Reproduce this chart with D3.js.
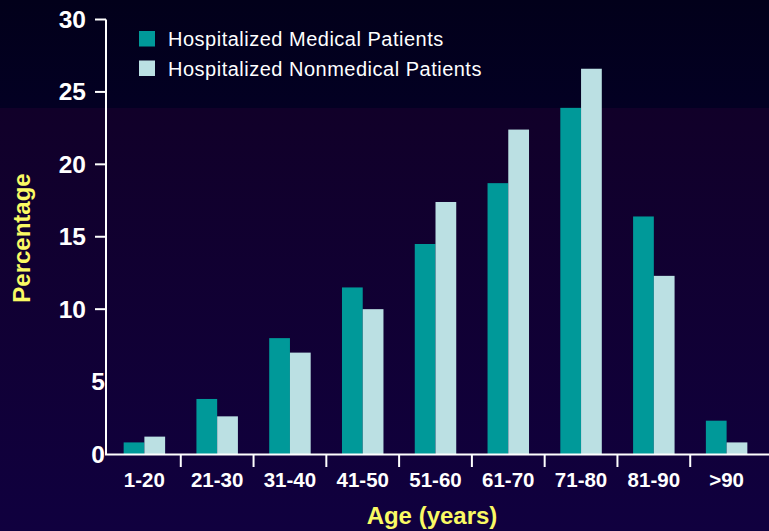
<!DOCTYPE html>
<html>
<head>
<meta charset="utf-8">
<script src="https://cdn.jsdelivr.net/npm/d3@7/dist/d3.min.js"></script>
<style>
  html, body { margin: 0; padding: 0; background: #0e0038; }
  svg { display: block; font-family: "Liberation Sans", Arial, sans-serif; }
</style>
</head>
<body>
<svg id="chart" width="769" height="531"></svg>
<script>
// Age groups and the share of patients (%) in each group
const ageGroups = ["1-20", "21-30", "31-40", "41-50", "51-60", "61-70", "71-80", "81-90", ">90"];
const medicalPatients = [0.8, 3.8, 8.0, 11.5, 14.5, 18.7, 23.9, 16.4, 2.3];
const nonmedicalPatients = [1.2, 2.6, 7.0, 10.0, 17.4, 22.4, 26.6, 12.3, 0.8];
const seriesNames = ["Hospitalized Medical Patients", "Hospitalized Nonmedical Patients"];
const yTicks = [0, 5, 10, 15, 20, 25, 30];

const colors = ["#009999", "#bbe0e3"];
const yellow = "#fafa64";

const svg = d3.select("#chart");
const W = 769, H = 531;

// Background: dark navy band on top, purple gradient below
const defs = svg.append("defs");
const gTop = defs.append("linearGradient").attr("id", "bgTop").attr("x1", 0).attr("y1", 0).attr("x2", 0).attr("y2", 1);
gTop.append("stop").attr("offset", "0%").attr("stop-color", "#02001a");
gTop.append("stop").attr("offset", "100%").attr("stop-color", "#030023");
const gBot = defs.append("linearGradient").attr("id", "bgBot").attr("x1", 0).attr("y1", 0).attr("x2", 0).attr("y2", 1);
gBot.append("stop").attr("offset", "0%").attr("stop-color", "#110029");
gBot.append("stop").attr("offset", "100%").attr("stop-color", "#10003f");
svg.append("rect").attr("x", 0).attr("y", 0).attr("width", W).attr("height", 108).attr("fill", "url(#bgTop)");
svg.append("rect").attr("x", 0).attr("y", 108).attr("width", W).attr("height", H - 108).attr("fill", "url(#bgBot)");

// Scales
const x0 = d3.scaleBand().domain(ageGroups).range([108, 763]).paddingInner(0.43).paddingOuter(0.215);
const x1 = d3.scaleBand().domain([0, 1]).range([0, x0.bandwidth()]).padding(0);
const y = d3.scaleLinear().domain([0, 30]).range([454, 19.5]);

// Bars
const rows = ageGroups.map((g, i) => ({ group: g, values: [medicalPatients[i], nonmedicalPatients[i]] }));
const groups = svg.append("g").selectAll("g").data(rows).join("g")
  .attr("transform", d => `translate(${x0(d.group)},0)`);
groups.selectAll("rect").data(d => d.values.map((v, k) => ({ k, v }))).join("rect")
  .attr("x", d => x1(d.k))
  .attr("width", x1.bandwidth())
  .attr("y", d => y(d.v))
  .attr("height", d => y(0) - y(d.v))
  .attr("fill", d => colors[d.k]);

// Y axis
const axisX = 106;
const yAxis = svg.append("g");
yAxis.append("line").attr("x1", axisX).attr("x2", axisX).attr("y1", y(30)).attr("y2", y(0))
  .attr("stroke", "#fff").attr("stroke-width", 2);
yTicks.forEach(t => {
  const small = t < 10;
  if (!small) {
    yAxis.append("line").attr("x1", axisX - 11).attr("x2", axisX).attr("y1", y(t)).attr("y2", y(t))
      .attr("stroke", "#fff").attr("stroke-width", 2);
  }
  yAxis.append("text")
    .attr("x", small ? axisX - 1 : 86)
    .attr("y", y(t))
    .attr("dy", "0.35em")
    .attr("text-anchor", "end")
    .attr("fill", "#fff")
    .attr("font-weight", "bold")
    .attr("font-size", 24.5)
    .text(t);
});

// X axis
const xAxis = svg.append("g");
xAxis.append("line").attr("x1", axisX - 1).attr("x2", W).attr("y1", y(0) + 0.5).attr("y2", y(0) + 0.5)
  .attr("stroke", "#fff").attr("stroke-width", 2);
ageGroups.slice(1).forEach(g => {
  const bx = x0(g) - x0.step() * x0.paddingInner() / 2;
  xAxis.append("line").attr("x1", bx).attr("x2", bx).attr("y1", y(0)).attr("y2", y(0) + 13)
    .attr("stroke", "#fff").attr("stroke-width", 2);
});
xAxis.selectAll("text").data(ageGroups).join("text")
  .attr("x", d => x0(d) + x0.bandwidth() / 2)
  .attr("y", 487)
  .attr("text-anchor", "middle")
  .attr("fill", "#fff")
  .attr("font-weight", "bold")
  .attr("font-size", 20.5)
  .text(d => d);

// Axis titles
svg.append("text")
  .attr("transform", "translate(30,238) rotate(-90)")
  .attr("text-anchor", "middle")
  .attr("fill", yellow)
  .attr("font-weight", "bold")
  .attr("font-size", 24)
  .text("Percentage");
svg.append("text")
  .attr("x", 432)
  .attr("y", 524)
  .attr("text-anchor", "middle")
  .attr("fill", yellow)
  .attr("font-weight", "bold")
  .attr("font-size", 24)
  .text("Age (years)");

// Legend
const legend = svg.append("g").selectAll("g").data(seriesNames).join("g")
  .attr("transform", (d, i) => `translate(139,${31 + i * 29.5})`);
legend.append("rect").attr("width", 16).attr("height", 15.5)
  .attr("fill", (d, i) => colors[i]);
legend.append("text")
  .attr("x", 29)
  .attr("y", 15)
  .attr("fill", "#fff")
  .attr("font-size", 20)
  .attr("letter-spacing", 0.5)
  .text(d => d);
</script>
</body>
</html>
